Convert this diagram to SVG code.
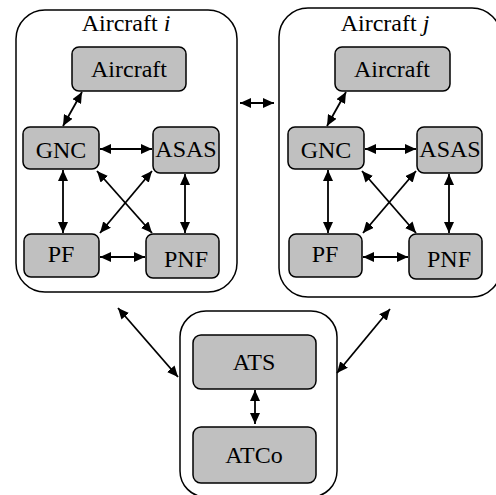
<svg xmlns="http://www.w3.org/2000/svg" width="496" height="495" viewBox="0 0 496 495">
<defs>
<marker id="ah" markerUnits="userSpaceOnUse" markerWidth="12" markerHeight="10" refX="11" refY="5" orient="auto-start-reverse">
<path d="M0,0 L11,5 L0,10 z" fill="#000"/>
</marker>
<style>
.outer{fill:#fff;stroke:#000;stroke-width:1.5}
.node{fill:#c0c0c0;stroke:#000;stroke-width:1.5}
.t{font-family:"Liberation Serif","Times New Roman",serif;font-size:24px;fill:#000;text-anchor:middle}
.c{stroke:#000;stroke-width:1.8;fill:none;marker-start:url(#ah);marker-end:url(#ah)}
</style>
</defs>
<rect width="496" height="495" fill="#fff"/>
<g id="aircraft-i-box">
<rect class="outer" x="16" y="10" width="221" height="282" rx="29"/>
<text class="t" x="126" y="31">Aircraft <tspan font-style="italic">i</tspan></text>
</g>
<g id="aircraft-j-box">
<rect class="outer" x="279" y="8" width="222" height="289" rx="29"/>
<text class="t" x="385" y="31">Aircraft <tspan font-style="italic">j</tspan></text>
</g>
<g id="ats-box">
<rect class="outer" x="180" y="311" width="157" height="186" rx="26"/>
</g>
<g id="aircraft-i"><rect class="node" x="72" y="47" width="114" height="44" rx="7"/><text class="t" x="129" y="77">Aircraft</text></g>
<g id="gnc-i"><rect class="node" x="23" y="127" width="76" height="42" rx="7"/><text class="t" x="61" y="158">GNC</text></g>
<g id="asas-i"><rect class="node" x="153" y="127" width="66" height="46" rx="7"/><text class="t" x="186" y="157">ASAS</text></g>
<g id="pf-i"><rect class="node" x="24" y="234" width="75" height="43" rx="7"/><text class="t" x="61" y="262">PF</text></g>
<g id="pnf-i"><rect class="node" x="146" y="234" width="73" height="44" rx="7"/><text class="t" x="186" y="267">PNF</text></g>
<g id="aircraft-j"><rect class="node" x="335" y="47" width="115" height="44" rx="7"/><text class="t" x="392" y="77">Aircraft</text></g>
<g id="gnc-j"><rect class="node" x="288" y="127" width="76" height="42" rx="7"/><text class="t" x="326" y="158">GNC</text></g>
<g id="asas-j"><rect class="node" x="417" y="127" width="65" height="46" rx="7"/><text class="t" x="450" y="157">ASAS</text></g>
<g id="pf-j"><rect class="node" x="289" y="234" width="73" height="43" rx="7"/><text class="t" x="325" y="262">PF</text></g>
<g id="pnf-j"><rect class="node" x="409" y="234" width="73" height="45" rx="7"/><text class="t" x="449" y="267">PNF</text></g>
<g id="ats"><rect class="node" x="193" y="335" width="123" height="54" rx="8"/><text class="t" x="254" y="370">ATS</text></g>
<g id="atco"><rect class="node" x="193" y="427" width="123" height="56" rx="8"/><text class="t" x="254" y="463">ATCo</text></g>
<g id="connectors">
<line class="c" x1="82" y1="92" x2="63" y2="126"/>
<line class="c" x1="100" y1="149" x2="152" y2="149"/>
<line class="c" x1="63" y1="170" x2="63" y2="233"/>
<line class="c" x1="185" y1="174" x2="185" y2="233"/>
<line class="c" x1="100" y1="257" x2="145" y2="257"/>
<line class="c" x1="97" y1="171" x2="152" y2="233"/>
<line class="c" x1="152" y1="171" x2="100" y2="233"/>
<line class="c" x1="346" y1="92" x2="327" y2="126"/>
<line class="c" x1="365" y1="149" x2="416" y2="149"/>
<line class="c" x1="328" y1="170" x2="328" y2="233"/>
<line class="c" x1="449" y1="174" x2="449" y2="233"/>
<line class="c" x1="363" y1="257" x2="408" y2="257"/>
<line class="c" x1="362" y1="171" x2="416" y2="233"/>
<line class="c" x1="416" y1="171" x2="363" y2="233"/>
<line class="c" x1="240" y1="103" x2="274" y2="103"/>
<line class="c" x1="118" y1="308" x2="178" y2="377"/>
<line class="c" x1="337" y1="373" x2="390" y2="309"/>
<line class="c" x1="255" y1="390" x2="255" y2="424"/>
</g>
</svg>
